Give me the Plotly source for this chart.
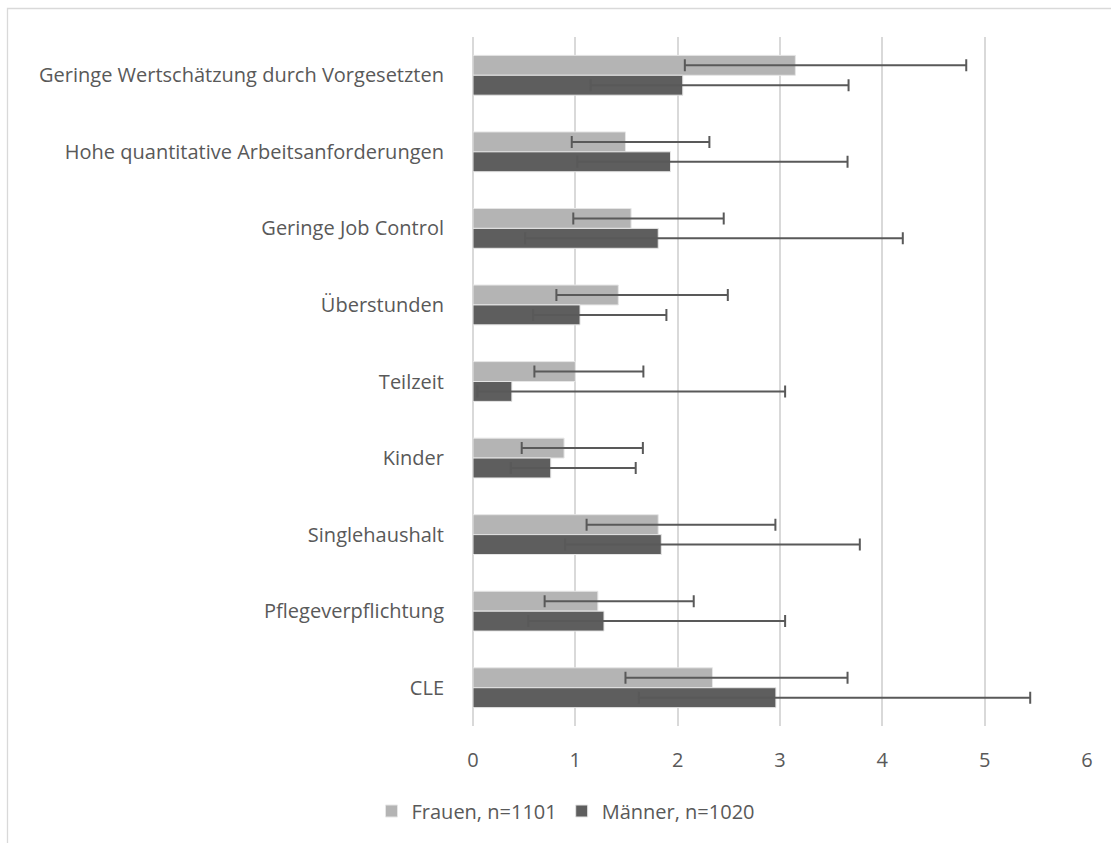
import plotly.graph_objects as go

# Categories, listed top to bottom
categories = [
    "Geringe Wertschätzung durch Vorgesetzten",
    "Hohe quantitative Arbeitsanforderungen",
    "Geringe Job Control",
    "Überstunden",
    "Teilzeit",
    "Kinder",
    "Singlehaushalt",
    "Pflegeverpflichtung",
    "CLE",
]

# Odds ratios with 95% confidence limits
frauen_or = [3.15, 1.49, 1.545, 1.42, 1.00, 0.89, 1.81, 1.22, 2.34]
frauen_lo = [2.07, 0.965, 0.98, 0.815, 0.60, 0.476, 1.11, 0.70, 1.49]
frauen_hi = [4.82, 2.31, 2.45, 2.49, 1.665, 1.66, 2.955, 2.157, 3.66]

maenner_or = [2.05, 1.93, 1.81, 1.046, 0.38, 0.76, 1.84, 1.28, 2.96]
maenner_lo = [1.15, 1.02, 0.51, 0.587, 0.043, 0.37, 0.90, 0.54, 1.62]
maenner_hi = [3.67, 3.66, 4.20, 1.89, 3.05, 1.59, 3.78, 3.05, 5.445]

x_ticks = [0, 1, 2, 3, 4, 5, 6]

FONT = "Open Sans"
FS = 20
TEXT = "#595959"
GRID = "#D9D9D9"
ERR = "#595959"


def err(vals, lo, hi):
    return dict(
        type="data",
        symmetric=False,
        array=[h - v for v, h in zip(vals, hi)],
        arrayminus=[v - l for v, l in zip(vals, lo)],
        color=ERR,
        thickness=2,
        width=6,
    )


fig = go.Figure()
fig.add_trace(go.Bar(
    name="Frauen, n=1101", y=categories, x=frauen_or, orientation="h",
    marker=dict(color="#B4B4B4", line=dict(color="#E6E6E6", width=1)),
    error_x=err(frauen_or, frauen_lo, frauen_hi),
))
fig.add_trace(go.Bar(
    name="Männer, n=1020", y=categories, x=maenner_or, orientation="h",
    marker=dict(color="#5E5E5E", line=dict(color="#E6E6E6", width=1)),
    error_x=err(maenner_or, maenner_lo, maenner_hi),
))

# plot area: x 473..1087 px, y 37..726 px
L, R, T, B = 473, 1087, 37, 726
W, H = 1111, 843
pw, ph = R - L, B - T


def px(x):
    return (x - L) / pw


def py(y):
    return (B - y) / ph


# chart frame (top and left edges)
fig.add_shape(type="path", xref="paper", yref="paper",
              path=f"M {px(7.5)},{py(860)} L {px(7.5)},{py(8.5)} L {px(1120)},{py(8.5)}",
              line=dict(color="#D9D9D9", width=1.3), layer="below")

fig.update_layout(
    width=W, height=H,
    margin=dict(l=L, r=W - R, t=T, b=H - B, pad=0),
    paper_bgcolor="white", plot_bgcolor="white",
    barmode="group", bargap=0.48, bargroupgap=0.0,
    font=dict(family=FONT, size=FS, color=TEXT),
    showlegend=True,
    legend=dict(orientation="h", x=px(566), xanchor="center", y=py(811), yanchor="middle",
                font=dict(size=FS, color=TEXT), traceorder="normal",
                itemwidth=30),
)
fig.update_xaxes(
    range=[0, 6], tickvals=x_ticks, showgrid=True, gridcolor=GRID, gridwidth=2,
    zeroline=True, zerolinecolor=GRID, zerolinewidth=2,
    showline=False, ticks="outside", ticklen=16, tickcolor="rgba(0,0,0,0)",
    tickfont=dict(size=FS, color=TEXT),
)
fig.update_yaxes(
    autorange="reversed", showgrid=False, showline=False,
    ticks="outside", ticklen=24, tickcolor="rgba(0,0,0,0)",
    tickfont=dict(size=FS, color=TEXT),
)

fig.write_html("out.html")
